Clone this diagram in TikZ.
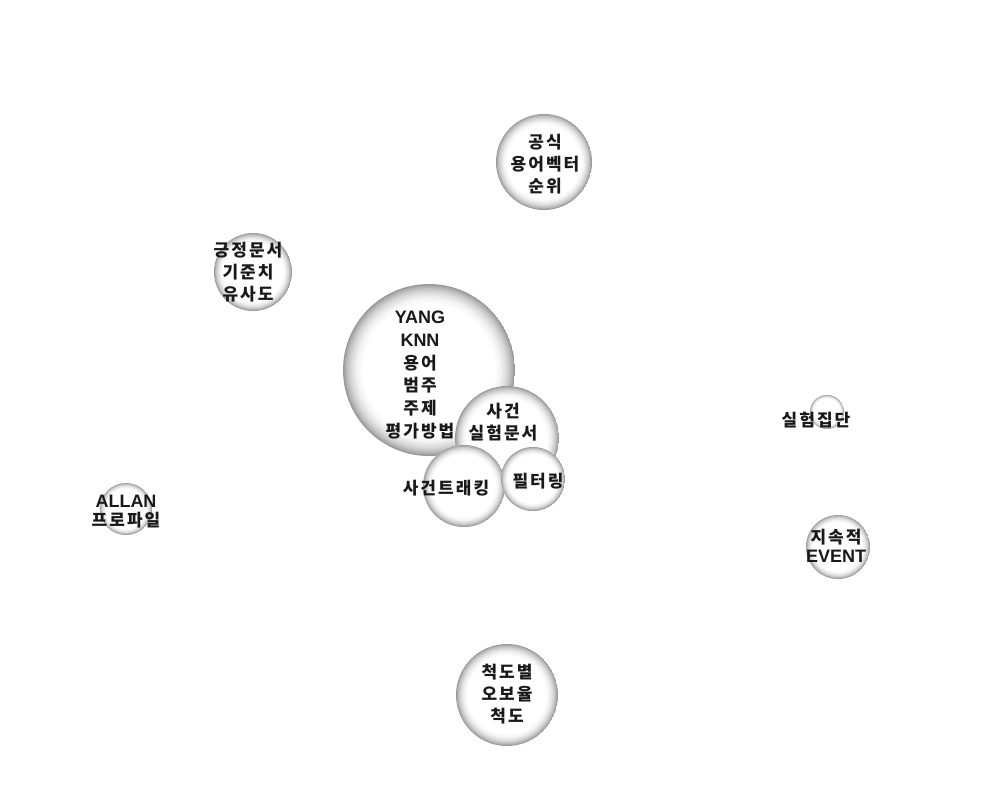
\documentclass[tikz,border=0pt]{standalone}
\usepackage{fontspec}
\setmainfont{Liberation Sans}
\newfontfamily\kr[LetterSpace=12]{Noto Sans CJK KR}
\newcommand\latw[1]{{\rmfamily\fontsize{18}{22}\selectfont #1}}
\begin{document}
\begin{tikzpicture}[x=1pt,y=-1pt,
  bubble/.style={circle, inner sep=0pt, outer sep=0pt, minimum size=2*#1pt, fill=white,
    path picture={
      \foreach \f/\c in {1.00/40,0.985/34,0.97/29,0.955/25,0.94/21,0.925/18,0.91/15,0.895/12,0.88/10,0.865/8,0.85/6,0.835/4,0.82/3,0.805/2,0.79/1,0.775/0}
        \fill[black!\c] (path picture bounding box.center) circle[radius={\f*#1pt}];
    }},
  lbl/.style={align=center, font=\kr\bfseries\fontsize{17}{22}\selectfont, text=black!90, inner sep=0pt}]
\useasboundingbox[fill=white] (0,0) rectangle (1003,793);
% bubbles
\node[bubble=86] (bYang) at (429,370) {};
\node[bubble=52] (bSagun) at (507,438) {};
\node[bubble=41] (bTrack) at (464,486) {};
\node[bubble=32] (bFilter) at (533,479) {};
\node[bubble=48] (bGongsik) at (544,162) {};
\node[bubble=39] (bGeung) at (253,272) {};
\node[bubble=17] (bJipdan) at (827,412) {};
\node[bubble=32] (bEvent) at (838,547) {};
\node[bubble=26] (bAllan) at (126,509) {};
\node[bubble=51] (bCheok) at (507,695) {};
% labels
\node[lbl] (tGongsik) at (545,164) {공식\\용어벡터\\순위};
\node[lbl] (tGeung) at (248,272) {긍정문서\\기준치\\유사도};
\node[lbl, font=\kr\bfseries\fontsize{17}{22.8}\selectfont] (tYang) at (420,375) {\latw{YANG}\\\latw{KNN}\\용어\\범주\\주제\\평가방법};
\node[lbl] (tSagun) at (503,422) {사건\\실험문서};
\node[lbl] (tTrack) at (446,488) {사건트래킹};
\node[lbl] (tFilter) at (538,481) {필터링};
\node[lbl] (tJipdan) at (816,420) {실험집단};
\node[lbl, font=\kr\bfseries\fontsize{17}{19}\selectfont] (tAllan) at (126,512) {\latw{ALLAN}\\프로파일};
\node[lbl, font=\kr\bfseries\fontsize{17}{19}\selectfont] (tEvent) at (836,546) {지속적\\\latw{EVENT}};
\node[lbl] (tCheok) at (507,694) {척도별\\오보율\\척도};
\end{tikzpicture}
\end{document}
